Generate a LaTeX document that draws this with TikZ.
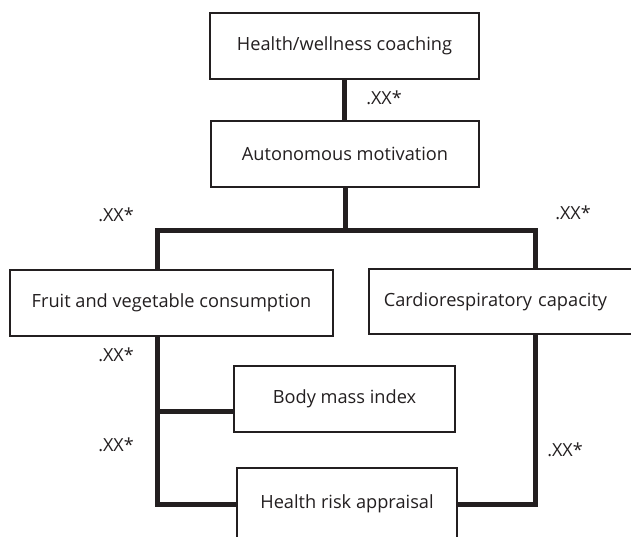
\documentclass[tikz,border=0pt]{standalone}
\usepackage{fontspec}
\setmainfont{Open Sans}
\definecolor{ink}{RGB}{35,31,32}
\begin{document}
\begin{tikzpicture}[x=1pt,y=-1pt,
  box/.style={draw=ink, line width=1.6pt, inner sep=0pt, minimum height=66pt,
              font=\fontsize{18.2}{21}\selectfont, text=ink},
  conn/.style={draw=ink, line width=5pt, line join=miter},
  lab/.style={font=\fontsize{18}{21}\selectfont, text=ink, inner sep=0pt}]
\clip (0,0) rectangle (631,536);
\fill[white] (0,0) rectangle (631,536);
\node[box, minimum width=269pt] (coach) at (344.5,46) {Health/wellness coaching};
\node[box, minimum width=268pt] (motiv) at (345,154) {Autonomous motivation};
\node[box, minimum width=323pt] (fruit) at (171.5,303) {Fruit and vegetable consumption};
\node[box, anchor=west, minimum height=65pt, text width=264pt, inner xsep=15pt, align=left] (cardio) at (368,301.5) {Cardiorespiratory capacity};
\node[box, minimum width=221pt] (bmi) at (344.5,399) {Body mass index};
\node[box, minimum width=220pt, minimum height=72pt] (hra) at (347,504) {Health risk appraisal};
\coordinate (jl) at (157.5,230);
\coordinate (jr) at (535.5,230);
\coordinate (fb) at (157.5,411.5);
\draw[conn] (coach.south) -- (motiv.north -| coach.south);
\draw[conn] (motiv.south) -- (motiv.south |- jl);
\draw[conn] (fruit.north -| jl) -- (jl) -- (jr) -- (cardio.north -| jr);
\draw[conn] (fruit.south -| jl) |- (hra.west);
\draw[conn] (fb) -- (fb -| bmi.west);
\draw[conn] (cardio.south -| jr) |- (hra.east);
\node[lab] (l1) at (384,98) {.XX*};
\node[lab] (l2) at (116,215) {.XX*};
\node[lab] (l3) at (573,213) {.XX*};
\node[lab] (l4) at (116,355) {.XX*};
\node[lab] (l5) at (116,445) {.XX*};
\node[lab] (l6) at (565,450) {.XX*};
\end{tikzpicture}
\end{document}
